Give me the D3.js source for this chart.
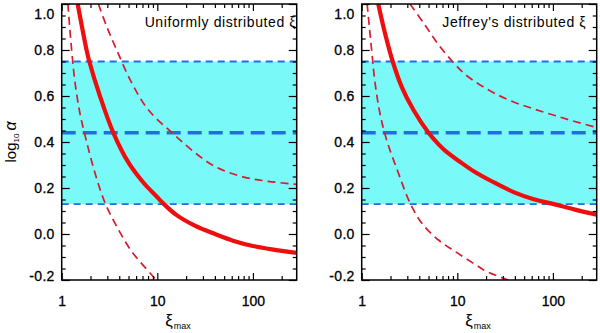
<!DOCTYPE html>
<html>
<head>
<meta charset="utf-8">
<script src="https://cdn.jsdelivr.net/npm/d3@7"></script>
<style>
  body { margin: 0; background: #fff; }
  text { font-family: "Liberation Sans", Arial, sans-serif; }
</style>
</head>
<body>
<div id="chart"></div>
<script>
// axis ranges and ticks
const xiRange = [1, 287];
const alphaRange = [-0.2, 1.0];
const xMajor = [1, 10, 100];
const xMinor = [2, 3, 4, 5, 6, 7, 8, 9, 20, 30, 40, 50, 60, 70, 80, 90, 200];
const yMajor = [-0.2, 0.0, 0.2, 0.4, 0.6, 0.8, 1.0];
const yMinor = [-0.15, -0.1, -0.05, 0.05, 0.1, 0.15, 0.25, 0.3, 0.35, 0.45, 0.5, 0.55, 0.65, 0.7, 0.75, 0.85, 0.9, 0.95];

// observed log10 alpha: lower, mean, upper
const bandLevels = [0.13, 0.44, 0.75];

// [xi_max, log10 alpha]
const uniformBest = [[1.47, 1.0], [1.82, 0.80], [1.945, 0.75], [2.51, 0.60], [3.47, 0.44], [5.0, 0.31],
  [7.1, 0.225], [10, 0.16], [11.6, 0.132], [15.8, 0.083], [25, 0.035], [40, 0.0], [63, -0.03],
  [100, -0.052], [158, -0.067], [287, -0.082]];
const uniformLow = [[1.16, 1.0], [1.27, 0.80], [1.38, 0.657], [1.55, 0.526], [1.8, 0.41], [2.23, 0.265],
  [2.84, 0.135], [3.76, 0.033], [5.4, -0.076], [8.7, -0.177], [9.7, -0.2]];
const uniformHigh = [[2.42, 1.0], [2.95, 0.903], [3.76, 0.80], [5.4, 0.657], [8.05, 0.54], [15, 0.432],
  [25, 0.352], [40, 0.294], [76, 0.25], [145, 0.229], [287, 0.216]];

const jeffreyBest = [[1.49, 1.0], [1.75, 0.874], [2.11, 0.75], [2.62, 0.64], [3.47, 0.54], [5.0, 0.44],
  [6.3, 0.392], [7.4, 0.364], [11, 0.31], [15, 0.272], [24, 0.225], [40, 0.18], [63, 0.151],
  [100, 0.131], [170, 0.106], [287, 0.084]];
const jeffreyLow = [[1.14, 1.0], [1.27, 0.80], [1.38, 0.657], [1.55, 0.526], [1.82, 0.41], [2.42, 0.265],
  [3.2, 0.135], [4.24, 0.048], [6.3, -0.025], [9.5, -0.076], [16.6, -0.141], [20.3, -0.163], [34, -0.2]];
const jeffreyHigh = [[3.2, 1.0], [4.57, 0.91], [6.3, 0.825], [8.9, 0.75], [12, 0.695], [17, 0.65],
  [25, 0.61], [40, 0.572], [65, 0.542], [105, 0.515], [170, 0.489], [287, 0.463]];

const panels = [
  { title: "Uniformly distributed \u03be", titleEnd: 234.5, best: uniformBest, low: uniformLow, high: uniformHigh },
  { title: "Jeffrey's distributed \u03be", titleEnd: 224.5, best: jeffreyBest, low: jeffreyLow, high: jeffreyHigh }
];

const width = 235, height = 276;
const offsets = [61.7, 361.7];
const marginTop = 4;

const svg = d3.select("#chart").append("svg")
  .attr("width", 600)
  .attr("height", 333);

const x = d3.scaleLog().domain(xiRange).range([0, width]);
const y = d3.scaleLinear().domain(alphaRange).range([height, 0]);

const line = d3.line()
  .x(d => x(d[0]))
  .y(d => y(d[1]))
  .curve(d3.curveCatmullRom.alpha(0.5));

svg.append("clipPath").attr("id", "plot-clip")
  .append("rect").attr("width", width).attr("height", height);

panels.forEach((p, i) => {
  const g = svg.append("g").attr("transform", `translate(${offsets[i]},${marginTop})`);
  const plot = g.append("g").attr("clip-path", "url(#plot-clip)");

  // shaded observed range
  plot.append("rect")
    .attr("x", 0).attr("width", width)
    .attr("y", y(bandLevels[2]))
    .attr("height", y(bandLevels[0]) - y(bandLevels[2]))
    .attr("fill", "#7af9f9");

  plot.selectAll(".band-line")
    .data(bandLevels)
    .join("line")
      .attr("x1", 0).attr("x2", width)
      .attr("y1", d => y(d)).attr("y2", d => y(d))
      .attr("stroke", "#1f6fe3")
      .attr("stroke-width", (d, j) => j === 1 ? 3.5 : 1.8)
      .attr("stroke-dasharray", (d, j) => j === 1 ? "14,7" : "7,5");

  // model curves
  [p.low, p.high].forEach(c => {
    plot.append("path")
      .datum(c)
      .attr("fill", "none")
      .attr("stroke", "#d81b2e")
      .attr("stroke-width", 1.7)
      .attr("stroke-dasharray", "8,5")
      .attr("d", line);
  });

  plot.append("path")
    .datum(p.best)
    .attr("fill", "none")
    .attr("stroke", "#ee0e0e")
    .attr("stroke-width", 4.2)
    .attr("stroke-linejoin", "round")
    .attr("d", line);

  // frame
  g.append("rect")
    .attr("width", width).attr("height", height)
    .attr("fill", "none").attr("stroke", "#000").attr("stroke-width", 1.5);

  const styleAxis = sel => {
    sel.select(".domain").remove();
    sel.selectAll("line").attr("stroke", "#000").attr("stroke-width", 1.2);
    sel.selectAll("text")
      .attr("fill", "#000")
      .attr("stroke", "#000").attr("stroke-width", 0.3)
      .attr("font-size", 14);
  };

  // bottom / top
  g.append("g").attr("transform", `translate(0,${height})`)
    .call(d3.axisBottom(x).tickValues(xMajor).tickFormat(d => d).tickSize(-7).tickPadding(16))
    .call(styleAxis);
  g.append("g").attr("transform", `translate(0,${height})`)
    .call(d3.axisBottom(x).tickValues(xMinor).tickFormat("").tickSize(-4))
    .call(styleAxis);
  g.append("g")
    .call(d3.axisTop(x).tickValues(xMajor).tickFormat("").tickSize(-7))
    .call(styleAxis);
  g.append("g")
    .call(d3.axisTop(x).tickValues(xMinor).tickFormat("").tickSize(-4))
    .call(styleAxis);

  // left / right
  const left = g.append("g")
    .call(d3.axisLeft(y).tickValues(yMajor).tickFormat(d => d.toFixed(1)).tickSize(-8).tickPadding(7))
    .call(styleAxis);
  left.selectAll(".tick text")
    .attr("letter-spacing", 0.3)
    .attr("dy", d => d === 1.0 ? "1.0em" : d === -0.2 ? "0.0em" : "0.35em");
  g.append("g")
    .call(d3.axisLeft(y).tickValues(yMinor).tickFormat("").tickSize(-4))
    .call(styleAxis);
  g.append("g").attr("transform", `translate(${width},0)`)
    .call(d3.axisRight(y).tickValues(yMajor).tickFormat("").tickSize(-8))
    .call(styleAxis);
  g.append("g").attr("transform", `translate(${width},0)`)
    .call(d3.axisRight(y).tickValues(yMinor).tickFormat("").tickSize(-4))
    .call(styleAxis);

  // panel title
  g.append("text")
    .attr("x", p.titleEnd).attr("y", 23)
    .attr("text-anchor", "end")
    .attr("font-size", 14)
    .attr("letter-spacing", 0.6)
    .text(p.title);

  // x label
  const xl = g.append("text")
    .attr("x", 103.5).attr("y", 322);
  xl.append("tspan").attr("font-size", 17).text("\u03be");
  xl.append("tspan").attr("font-size", 9).attr("dx", 1).attr("dy", 3).text("max");
});

// y label
const yl = svg.append("text")
  .attr("transform", `translate(16,${marginTop + height / 2}) rotate(-90)`)
  .attr("text-anchor", "middle");
yl.append("tspan").attr("font-size", 15).text("log");
yl.append("tspan").attr("font-size", 8).attr("dy", 3).text("10");
yl.append("tspan").attr("font-size", 16).attr("font-style", "italic").attr("dy", -3).attr("dx", 3).text("\u03b1");
</script>
</body>
</html>
